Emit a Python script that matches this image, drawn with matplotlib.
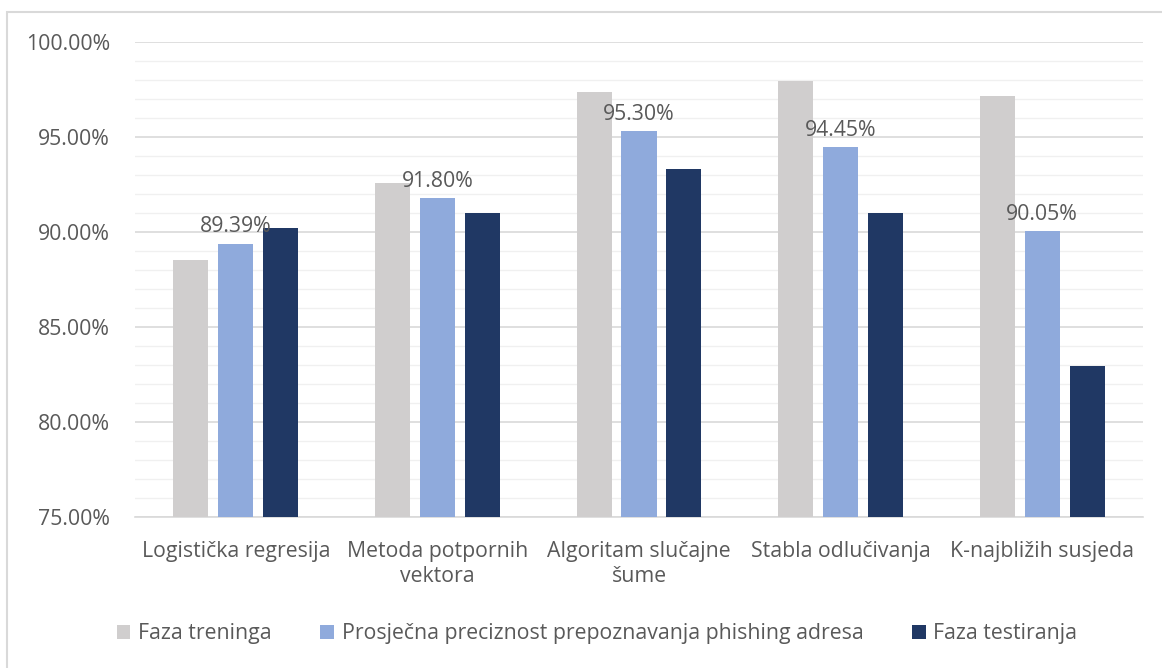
import matplotlib
matplotlib.use("Agg")
import matplotlib.pyplot as plt
import numpy as np
from matplotlib.patches import Rectangle
from matplotlib.ticker import MultipleLocator, FuncFormatter

categories = ["Logistička regresija", "Metoda potpornih\nvektora", "Algoritam slučajne\nšume",
              "Stabla odlučivanja", "K-najbližih susjeda"]
series_names = ["Faza treninga", "Prosječna preciznost prepoznavanja phishing adresa", "Faza testiranja"]
train = [88.53, 92.60, 97.35, 97.95, 97.15]
avg_precision = [89.39, 91.80, 95.30, 94.45, 90.05]
test = [90.20, 91.00, 93.30, 91.00, 82.96]
colors = ["#D0CECE", "#8FAADC", "#203864"]

plt.rcParams["font.family"] = ["Open Sans", "DejaVu Sans"]
text_color = "#595959"
fs = 15.3

fig = plt.figure(figsize=(11.62, 6.68), dpi=100)
ax = fig.add_axes([135 / 1162, 1 - 517 / 668, (1143 - 135) / 1162, (517 - 42) / 668])

x = np.arange(len(categories))
width = 0.174
step = 0.223
for i, (vals, name, col) in enumerate(zip([train, avg_precision, test], series_names, colors)):
    bars = ax.bar(x + (i - 1) * step, vals, width, color=col, label=name, zorder=3)
    if i == 1:
        for b, v in zip(bars, vals):
            ax.annotate(f"{v:.2f}%", (b.get_x() + b.get_width() / 2, v), xytext=(0, 8),
                        textcoords="offset points", ha="center", va="baseline",
                        fontsize=fs, color=text_color, zorder=4)

ax.set_ylim(75, 100)
ax.set_xlim(-0.5, len(categories) - 0.5)
ax.yaxis.set_major_locator(MultipleLocator(5))
ax.yaxis.set_minor_locator(MultipleLocator(1))
ax.yaxis.set_major_formatter(FuncFormatter(lambda v, _: f"{v:.2f}%"))
ax.grid(axis="y", which="major", color="#d9d9d9", linewidth=1.2, zorder=0)
ax.grid(axis="y", which="minor", color="#f0f0f0", linewidth=1.0, zorder=0)
ax.set_xticks(x)
ax.set_xticklabels(categories, fontsize=fs, color=text_color, linespacing=1.3)
ax.tick_params(axis="both", which="both", length=0)
ax.tick_params(axis="y", labelsize=fs, labelcolor=text_color, pad=18)
ax.tick_params(axis="x", pad=17)
for side in ["left", "right", "top"]:
    ax.spines[side].set_visible(False)
ax.spines["bottom"].set_color("#d9d9d9")
ax.spines["bottom"].set_linewidth(1.2)

fig.legend(loc="center", bbox_to_anchor=(597 / 1162, 1 - 634 / 668), ncol=3, frameon=False,
           fontsize=fs, labelcolor=text_color, handlelength=0.65, handleheight=0.65,
           handletextpad=0.35, columnspacing=2.3)

fig.patches.append(Rectangle((7 / 1162, -0.1), 2, 1.1 - 12 / 668, transform=fig.transFigure,
                             fill=False, edgecolor="#d9d9d9", linewidth=1.5))

fig.savefig("out.png", dpi=100)
